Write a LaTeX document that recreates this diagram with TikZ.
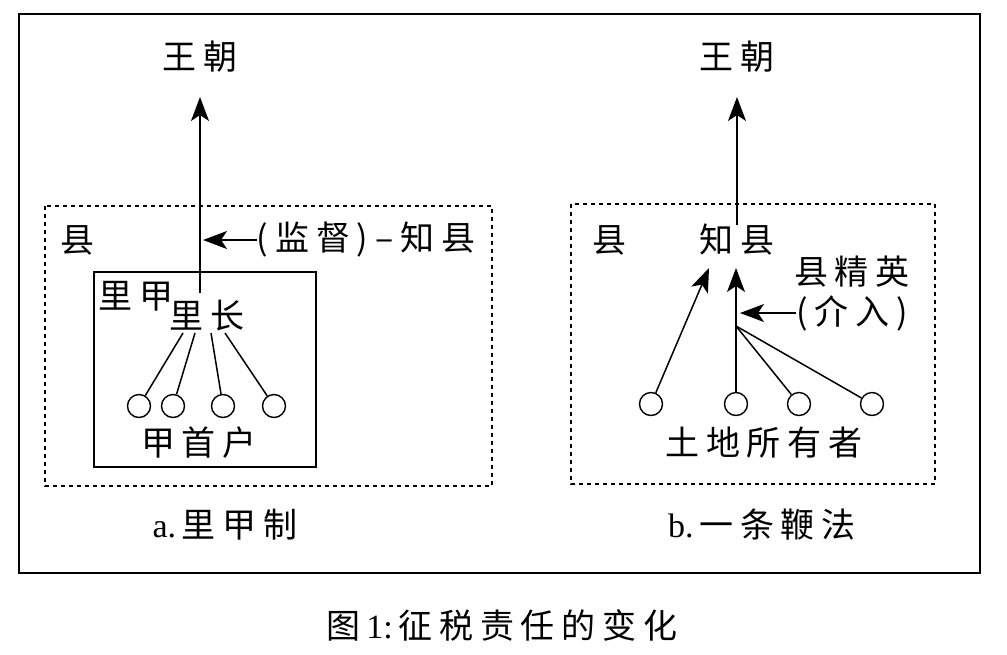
\documentclass[tikz,border=0pt]{standalone}
\usepackage{fontspec}
\setmainfont{Liberation Serif}
\newfontfamily\cjk[LetterSpace=20]{Noto Sans CJK SC}
\usetikzlibrary{arrows.meta,positioning,calc}
\tikzset{
txt/.style   = {inner sep=0pt, font=\fontsize{17pt}{20pt}\selectfont\cjk},
house/.style = {draw, circle, minimum size=11.5pt, inner sep=0pt, line width=0.7pt},
zone/.style  = {dash pattern=on 2pt off 2pt, line width=0.7pt},
frame/.style = {line width=1pt},
link/.style  = {line width=0.75pt},
arr/.style   = {link, -{Stealth[length=12pt,width=9pt,inset=3pt]}}
}
\begin{document}
\begin{tikzpicture}[x=0.5pt, y=-0.5pt]
  \useasboundingbox (0,0) rectangle (1007,654);
  \draw [frame] (19,14) rectangle (980,573);

  % a. left panel
  \draw [zone] (45,206) rectangle (492,486);
  \draw [frame] (94,272) rectangle (316,467);
  \node [txt] (wa)  at (200,57)  {王朝};
  \node [txt] (xa)  at (77,240)  {县};
  \node [txt] (jd)  at (366,240) {(监督)–知县};
  \node [txt] (lj)  at (136,296) {里甲};
  \node [txt] (lz)  at (207,316) {里长};
  \node [house] (h1) at (139,406) {};
  \node [house] (h2) at (173,406) {};
  \node [house] (h3) at (223,406) {};
  \node [house] (h4) at (274,406) {};
  \node [txt] (jsh) at (199,443) {甲首户};
  \node [txt] (ca)  at (225,525) {{\rmfamily a.\,}里甲制};
  \coordinate (abot) at (200,293);

  \draw [arr] (abot) -- ($(wa)+(0,40)$);
  \draw [arr, shorten >=1.5pt] (jd.west) -- (abot |- jd.west);
  \draw [link] (h1) -- ($(lz)+(-24,17)$);
  \draw [link] (h2) -- ($(lz)+(-12,17)$);
  \draw [link] (h3) -- ($(lz)+(4,17)$);
  \draw [link] (h4) -- ($(lz)+(18,17)$);

  % b. right panel
  \draw [zone] (571,204) rectangle (935,484);
  \node [txt] (wb)  at (737,57)  {王朝};
  \node [txt] (xb)  at (609,240) {县};
  \node [txt] (zx)  at (737,240) {知县};
  \node [txt] (jy)  at (852,272) {县精英};
  \node [txt] (jr)  at (852,313) {(介入)};
  \node [house] (g1) at (651,404) {};
  \node [house] (g2) at (736,404) {};
  \node [house] (g3) at (799,404) {};
  \node [house] (g4) at (872,404) {};
  \node [txt] (td)  at (764,443) {土地所有者};
  \node [txt] (cb)  at (762,525) {{\rmfamily b.\,}一条鞭法};
  \coordinate (j) at (736,326);

  \draw [arr] ($(zx)+(0,-15)$) -- ($(wb)+(0,40)$);
  \draw [arr] (g1) -- ($(zx)+(-28,28)$);
  \draw [arr] (g2) -- ($(zx)+(-1,28)$);
  \draw [arr, shorten >=2pt] (jr.west) -- (j |- jr.west);
  \draw [link] (g3) -- (j);
  \draw [link] (g4) -- (j);

  \node [txt] (cap) at (502,625) {图{\rmfamily\,1:\,}征税责任的变化};
\end{tikzpicture}
\end{document}
